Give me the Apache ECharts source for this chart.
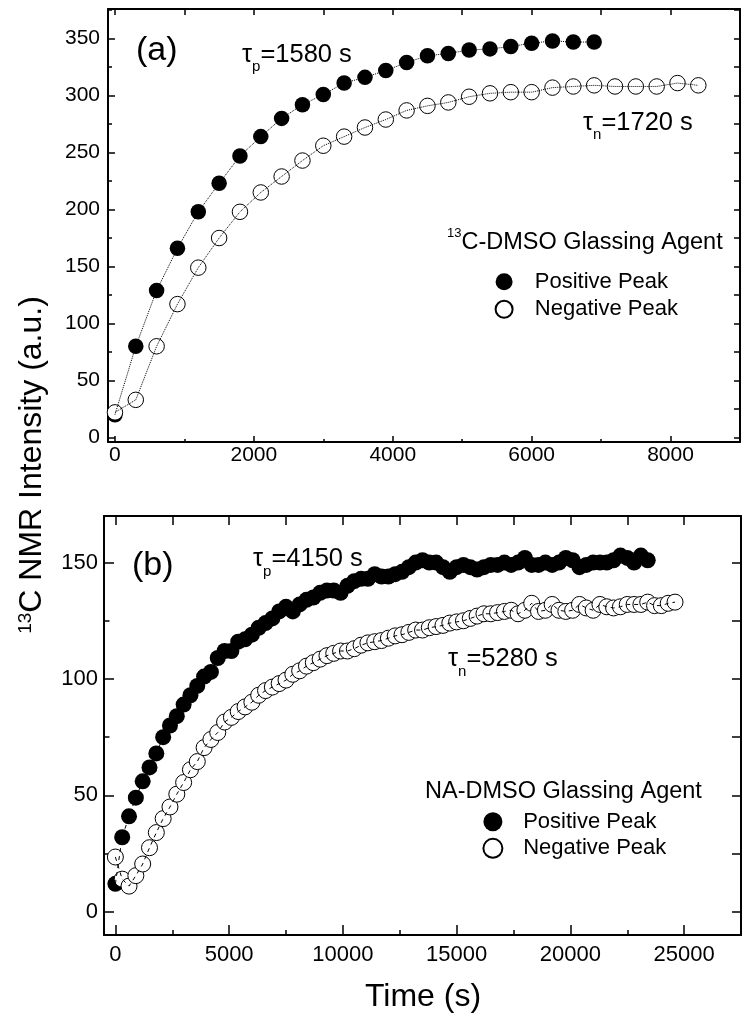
<!DOCTYPE html>
<html>
<head>
<meta charset="utf-8">
<script src="https://cdn.jsdelivr.net/npm/echarts@6/dist/echarts.min.js"></script>
<style>
html,body{margin:0;padding:0;background:#fff;}
#chart{width:751px;height:1026px;}
</style>
</head>
<body>
<div id="chart"></div>
<script>
// ---------------- data ----------------
// Panel (a): 13C-DMSO glassing agent
const aTimePos = [0,300,600,900,1200,1500,1800,2100,2400,2700,3000,3300,3600,3900,4200,4500,4800,5100,5400,5700,6000,6300,6600,6900];
const aPos = [20,80,129,166,198,223,247,264,280,292,301,311,316,322,329,335,337,340,341,343,346,348,347,347];
const aTimeNeg = [0,300,600,900,1200,1500,1800,2100,2400,2700,3000,3300,3600,3900,4200,4500,4800,5100,5400,5700,6000,6300,6600,6900,7200,7500,7800,8100,8400];
const aNeg = [22,33,80,117,149,175,198,215,229,243,256,264,272,279,287,291,294,299,302,303,303,307,308,309,308,308,308,311,309];

// Panel (b): NA-DMSO glassing agent
const bTimePos = [0,300,600,900,1200,1500,1800,2100,2400,2700,3000,3300,3600,3900,4200,4500,4800,5100,5400,5700,6000,6300,6600,6900,7200,7500,7800,8100,8400,8700,9000,9300,9600,9900,10200,10500,10800,11100,11400,11700,12000,12300,12600,12900,13200,13500,13800,14100,14400,14700,15000,15300,15600,15900,16200,16500,16800,17100,17400,17700,18000,18300,18600,18900,19200,19500,19800,20100,20400,20700,21000,21300,21600,21900,22200,22500,22800,23100,23400];
const bPos = [12,32,41,49,56,62,68,75,80,84,
  89,93,97,101,103,109,112,112,116,117,
  119,122,124,126,129,131,129,132,134,135,
  137,138,138,137,140,142,143,143,145,144,
  144,145,146,148,150,151,150,150,148,146,
  148,149,148,147,148,149,149,150,149,150,
  152,149,149,150,149,150,152,151,148,149,
  150,150,150,151,153,152,150,153,151];
const bTimeNeg = [0,300,600,900,1200,1500,1800,2100,2400,2700,3000,3300,3600,3900,4200,4500,4800,5100,5400,5700,6000,6300,6600,6900,7200,7500,7800,8100,8400,8700,9000,9300,9600,9900,10200,10500,10800,11100,11400,11700,12000,12300,12600,12900,13200,13500,13800,14100,14400,14700,15000,15300,15600,15900,16200,16500,16800,17100,17400,17700,18000,18300,18600,18900,19200,19500,19800,20100,20400,20700,21000,21300,21600,21900,22200,22500,22800,23100,23400,23700,24000,24300,24600];
const bNeg = [23.5,14,11,15.5,20.5,27.5,34,40,45,50.5,
  55.5,61,64.5,70.5,74,77,81.5,83.5,86,88,
  90,93,95,96.5,98,99.5,102,103.5,105.5,107,
  108.5,110,111,112,112,113,114.5,115.5,116,116.5,
  117.5,118.5,119,120,121,121,122,122.5,123,124,
  124.5,125,126,127,128,128,128.5,129,129.5,128,
  129.5,132.5,129,129.5,132,129.5,129,129.5,132,130.5,
  129.5,132,131,130.5,131,132,132,132,133,131.5,
  131.5,132.5,133];

// tick values
const aXMajor = [0,2000,4000,6000,8000];
const aXMinor = [1000,3000,5000,7000];
const aYMajor = [0,50,100,150,200,250,300,350];
const aYMinor = [25,75,125,175,225,275,325,375];
const bXMajor = [0,5000,10000,15000,20000,25000];
const bXMinor = [2500,7500,12500,17500,22500];
const bYMajor = [0,50,100,150];
const bYMinor = [25,75,125];

const seriesNames = ['Positive Peak','Negative Peak'];
const texts = {
  yTitleSup:'13', yTitle:'C NMR Intensity (a.u.)', xTitle:'Time (s)',
  aTag:'(a)', bTag:'(b)',
  aTauP:['τ','p','=1580 s'], aTauN:['τ','n','=1720 s'],
  bTauP:['τ','p','=4150 s'], bTauN:['τ','n','=5280 s'],
  aAgentSup:'13', aAgent:'C-DMSO Glassing Agent', bAgent:'NA-DMSO Glassing Agent'
};

// ---------------- chart ----------------
const FONT = 'Liberation Sans, Arial, Helvetica, sans-serif';
const zip = (xs, ys) => xs.map((x, i) => [x, ys[i]]);
const all = (a, b) => a.concat(b).sort((p, q) => p - q);
const plainNum = v => String(v);

function xAxes(grid, min, max, major, minor, lenMaj, lenMin, lenTop, fs, margin) {
  const base = {gridIndex: grid, type: 'value', min: min, max: max, splitLine: {show: false}};
  return [
    Object.assign({}, base, {position: 'bottom',
      axisLine: {show: true, onZero: false, lineStyle: {color: '#000', width: 2}},
      axisTick: {show: true, inside: true, length: lenMaj, customValues: major, lineStyle: {color: '#000', width: 1.5}},
      axisLabel: {show: true, customValues: major, formatter: plainNum, fontSize: fs, fontFamily: FONT, color: '#000', margin: margin}}),
    Object.assign({}, base, {position: 'bottom',
      axisLine: {show: false, onZero: false},
      axisTick: {show: true, inside: true, length: lenMin, customValues: minor, lineStyle: {color: '#000', width: 1.5}},
      axisLabel: {show: false}}),
    Object.assign({}, base, {position: 'top',
      axisLine: {show: true, onZero: false, lineStyle: {color: '#000', width: 2}},
      axisTick: {show: true, inside: true, length: lenTop, customValues: all(major, minor), lineStyle: {color: '#000', width: 1.5}},
      axisLabel: {show: false}})
  ];
}
function yAxes(grid, min, max, major, minor, lenMaj, lenMin, lenTop, fs, margin) {
  const base = {gridIndex: grid, type: 'value', min: min, max: max, splitLine: {show: false}};
  return [
    Object.assign({}, base, {position: 'left',
      axisLine: {show: true, onZero: false, lineStyle: {color: '#000', width: 2}},
      axisTick: {show: true, inside: true, length: lenMaj, customValues: major, lineStyle: {color: '#000', width: 1.5}},
      axisLabel: {show: true, customValues: major, formatter: plainNum, fontSize: fs, fontFamily: FONT, color: '#000', margin: margin}}),
    Object.assign({}, base, {position: 'left',
      axisLine: {show: false, onZero: false},
      axisTick: {show: true, inside: true, length: lenMin, customValues: minor, lineStyle: {color: '#000', width: 1.5}},
      axisLabel: {show: false}}),
    Object.assign({}, base, {position: 'right',
      axisLine: {show: true, onZero: false, lineStyle: {color: '#000', width: 2}},
      axisTick: {show: true, inside: true, length: lenTop, customValues: all(major, minor), lineStyle: {color: '#000', width: 1.5}},
      axisLabel: {show: false}})
  ];
}

function scatter(name, xi, yi, data, filled, size) {
  return {name: name, type: 'scatter', xAxisIndex: xi, yAxisIndex: yi, data: data,
    symbol: 'circle', symbolSize: size, z: 2, silent: true,
    itemStyle: filled ? {color: '#000', borderColor: '#000', borderWidth: 0, opacity: 1}
                      : {color: '#fff', borderColor: '#000', borderWidth: 1, opacity: 1}};
}
function fitLine(name, xi, yi, data, type) {
  return {name: name, type: 'line', xAxisIndex: xi, yAxisIndex: yi, data: data,
    symbol: 'none', z: 3, silent: true,
    lineStyle: {color: '#000', width: 1, type: type}};
}

function tauText(x, y, parts, fs, subFs, lh) {
  return {type: 'text', x: x, y: y, z: 10, style: {
    text: '{m|' + parts[0] + '}{s|' + parts[1] + '}{m|' + parts[2] + '}',
    fontFamily: FONT, fontSize: fs, fill: '#000', align: 'left', verticalAlign: 'middle',
    rich: {
      m: {fontFamily: FONT, fontSize: fs, lineHeight: lh, verticalAlign: 'middle', fill: '#000'},
      s: {fontFamily: FONT, fontSize: subFs, verticalAlign: 'bottom', fill: '#000'}
    }}};
}
function supText(x, y, sup, main, fs, supFs, lh, align, rotation) {
  return {type: 'text', x: x, y: y, z: 10, rotation: rotation || 0, style: {
    text: '{u|' + sup + '}{m|' + main + '}',
    fontFamily: FONT, fontSize: fs, fill: '#000', align: align, verticalAlign: 'middle',
    rich: {
      u: {fontFamily: FONT, fontSize: supFs, verticalAlign: 'top', fill: '#000'},
      m: {fontFamily: FONT, fontSize: fs, lineHeight: lh, verticalAlign: 'middle', fill: '#000'}
    }}};
}
function plainText(x, y, t, fs, align) {
  return {type: 'text', x: x, y: y, z: 10, style: {text: t, fontFamily: FONT, fontSize: fs,
    fill: '#000', align: align, verticalAlign: 'middle'}};
}

const chart = echarts.init(document.getElementById('chart'), null, {renderer: 'canvas'});
const option = {
  animation: false,
  backgroundColor: '#fff',
  grid: [
    {left: 108, top: 9, width: 632, height: 433, containLabel: false},
    {left: 104, top: 516, width: 637, height: 419, containLabel: false}
  ],
  xAxis: [].concat(
    xAxes(0, -100, 9000, aXMajor, aXMinor, 6, 3, 6, 21, 3),
    xAxes(1, -500, 27500, bXMajor, bXMinor, 10, 5, 9, 22, 9)
  ),
  yAxis: [].concat(
    yAxes(0, -4, 376, aYMajor, aYMinor, 7, 4, 6, 21, 8),
    yAxes(1, -10, 170, bYMajor, bYMinor, 10, 5.5, 9, 22, 6)
  ),
  legend: [
    {data: seriesNames, orient: 'vertical', left: 494.6, top: 270.7, padding: 0,
     itemWidth: 51.4, itemHeight: 17, itemGap: 5.6, selectedMode: false,
     textStyle: {fontSize: 22, fontFamily: FONT, color: '#000'}},
    {data: seriesNames, orient: 'vertical', left: 482.4, top: 810.7, padding: 0,
     itemWidth: 50.6, itemHeight: 19, itemGap: 4.6, selectedMode: false,
     textStyle: {fontSize: 22, fontFamily: FONT, color: '#000'}}
  ],
  series: [
    scatter(seriesNames[0], 0, 0, zip(aTimePos, aPos), true, 15.5),
    scatter(seriesNames[1], 0, 0, zip(aTimeNeg, aNeg), false, 15.5),
    fitLine('a-pos-fit', 0, 0, zip(aTimePos, aPos), 'dotted'),
    fitLine('a-neg-fit', 0, 0, zip(aTimeNeg, aNeg), 'dotted'),
    scatter(seriesNames[0], 3, 3, zip(bTimePos, bPos), true, 16),
    scatter(seriesNames[1], 3, 3, zip(bTimeNeg, bNeg), false, 16),
    fitLine('b-pos-fit', 3, 3, zip(bTimePos, bPos), [4, 4]),
    fitLine('b-neg-fit', 3, 3, zip(bTimeNeg, bNeg), [4, 4])
  ],
  graphic: [
    supText(32, 465, texts.yTitleSup, texts.yTitle, 32, 19, 32, 'center', Math.PI / 2),
    plainText(423, 997, texts.xTitle, 32, 'center'),
    plainText(136, 51, texts.aTag, 34, 'left'),
    plainText(132, 566, texts.bTag, 34, 'left'),
    tauText(242, 55, texts.aTauP, 25.5, 15, 38),
    tauText(583, 123, texts.aTauN, 25.5, 15, 38),
    tauText(253, 559, texts.bTauP, 25.5, 15, 40),
    tauText(448, 659, texts.bTauN, 25.5, 15, 40),
    supText(447, 243, texts.aAgentSup, texts.aAgent, 23.5, 13, 32, 'left'),
    plainText(425, 791.5, texts.bAgent, 23.5, 'left')
  ]
};
chart.setOption(option);
</script>
</body>
</html>
